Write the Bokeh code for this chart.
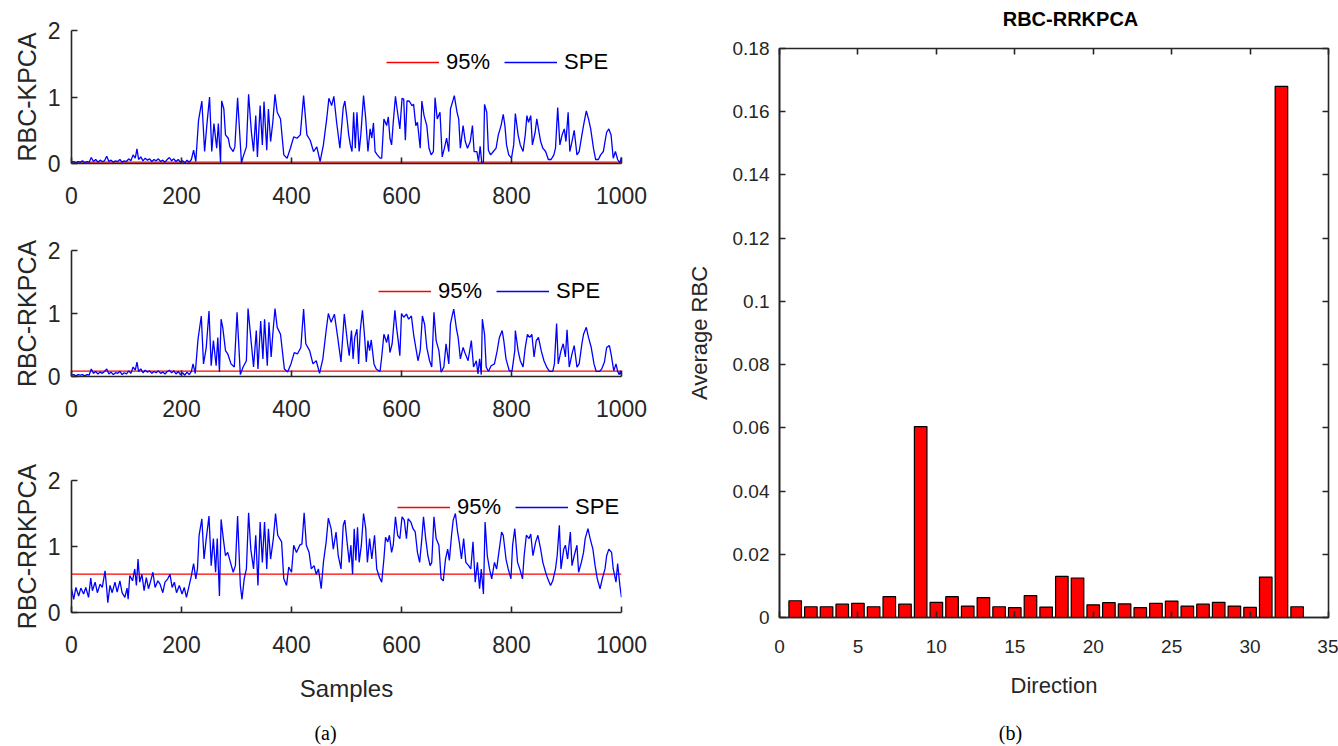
from bokeh.plotting import figure
from bokeh.layouts import row, column
from bokeh.models import (Range1d, FixedTicker, Legend, LegendItem, LinearAxis,
                          Label, CustomJSTickFormatter)
from bokeh.embed import file_html
from bokeh.resources import INLINE

FONT = "Liberation Sans"
SERIF = "Liberation Serif"
TXT = "#262626"

# ---------------- data ----------------
sample_range = [0, 1000]
x_ticks_a = [0, 200, 400, 600, 800, 1000]
y_ticks_a = [0, 1, 2]

# SPE, RBC-KPCA (sample, value) vertices
spe1 = [(0,0.02),(4,0.03),(8,0.01),(12,0.03),(16,0.02),(20,0.04),(24,0.01),(28,0.03),(32,0.02),(36,0.09),
        (40,0.03),(44,0.06),(48,0.02),(52,0.05),(56,0.03),(60,0.04),(64,0.11),(68,0.03),(72,0.05),(76,0.02),
        (80,0.04),(84,0.03),(88,0.06),(92,0.02),(96,0.04),(100,0.03),(104,0.07),(108,0.04),(112,0.13),(116,0.08),
        (119,0.22),(122,0.06),(126,0.1),(130,0.04),(134,0.08),(138,0.05),(142,0.07),(146,0.03),(150,0.06),(154,0.04),
        (158,0.07),(162,0.03),(166,0.05),(170,0.02),(174,0.06),(178,0.09),(182,0.04),(186,0.07),(190,0.03),(194,0.06),
        (198,0.02),(202,0.04),(206,0.01),(210,0.05),(214,0.02),(218,0.06),(222,0.2),(226,0.03),
        (231,0.65),(237,0.94),(242,0.18),(246,0.57),(251,1.0),(255,0.18),(259,0.6),(264,0.23),(267,0.6),(271,0.01),
        (273,0.94),(277,0.82),(280,0.43),(285,0.38),(288,0.25),(294,0.18),(297,0.25),(302,0.99),(309,0.01),(312,0.1),
        (318,0.25),(322,1.04),(327,0.48),(331,0.18),(335,0.72),(338,0.1),(343,0.87),(347,0.28),(350,0.93),(355,0.2),
        (358,0.82),(362,0.33),(366,0.62),(370,1.04),(374,0.77),(380,0.67),(386,0.13),(392,0.08),(398,0.23),(404,0.4),
        (410,0.38),(416,0.43),(422,1.02),(428,0.43),(434,0.35),(440,0.18),(446,0.25),(452,0.03),(458,0.28),(464,0.67),
        (468,0.98),(473,0.87),(477,1.01),(482,0.62),(488,0.23),(494,0.84),(497,0.94),(501,0.67),(504,0.43),(507,0.28),
        (510,0.18),(513,0.77),(516,0.23),(519,0.77),(523,0.18),(526,0.43),(531,1.02),(535,0.67),(539,0.18),(543,0.52),
        (546,0.38),(549,0.61),(552,0.18),(556,0.13),(561,0.08),(564,0.08),(568,0.67),(573,0.57),(576,0.7),(579,0.38),
        (582,0.28),(585,0.62),(589,1.01),(592,0.82),(597,0.52),(601,0.98),(604,0.97),(607,0.35),(610,0.94),(614,0.94),
        (619,0.87),(622,0.89),(626,0.57),(629,0.62),(634,0.23),(637,0.94),(641,0.72),(646,0.57),(650,0.23),(654,0.13),
        (658,0.18),(661,0.99),(665,0.67),(670,0.77),(674,0.1),(678,0.23),(682,0.38),(686,0.18),(689,0.82),(694,0.96),
        (696,1.02),(701,0.77),(704,0.67),(707,0.23),(712,0.57),(716,0.33),(720,0.23),(725,0.33),(729,0.57),(732,0.18),
        (737,0.18),(740,0.03),(743,0.26),(746,0.01),(749,0.02),(751,0.89),(755,0.77),(758,0.2),(762,0.13),(767,0.18),
        (772,0.23),(776,0.43),(781,0.57),(785,0.74),(788,0.57),(791,0.28),(795,0.13),(800,0.08),(804,0.28),(807,0.75),
        (812,0.43),(816,0.28),(821,0.18),(825,0.43),(828,0.72),(831,0.62),(835,0.72),(838,0.28),(843,0.47),(846,0.67),
        (849,0.52),(853,0.33),(857,0.23),(862,0.18),(867,0.06),(872,0.06),(877,0.13),(880,0.23),(884,0.84),(888,0.28),
        (892,0.43),(896,0.52),(899,0.33),(903,0.77),(906,0.18),(910,0.33),(914,0.5),(919,0.13),(923,0.18),(928,0.43),
        (932,0.62),(936,0.79),(940,0.67),(944,0.52),(949,0.23),(953,0.06),(958,0.06),(962,0.13),(967,0.18),(970,0.33),
        (973,0.47),(977,0.52),(981,0.43),(985,0.08),(989,0.18),(993,0.06),(997,0.01),(1000,0.1)]

# SPE, RBC-RKPCA
spe2 = [(0,0.02),(4,0.03),(8,0.01),(12,0.03),(16,0.02),(20,0.03),(24,0.01),(28,0.03),(32,0.02),(36,0.12),
        (40,0.05),(44,0.08),(48,0.04),(52,0.07),(56,0.05),(60,0.08),(64,0.12),(68,0.04),(72,0.07),(76,0.03),
        (80,0.06),(84,0.05),(88,0.08),(92,0.03),(96,0.06),(100,0.04),(104,0.09),(108,0.05),(112,0.15),(116,0.1),
        (119,0.23),(122,0.08),(126,0.12),(130,0.06),(134,0.1),(138,0.07),(142,0.09),(146,0.05),(150,0.08),(154,0.06),
        (158,0.09),(162,0.05),(166,0.07),(170,0.04),(174,0.08),(178,0.1),(182,0.06),(186,0.09),(190,0.04),(194,0.08),
        (198,0.03),(202,0.06),(206,0.02),(210,0.07),(214,0.03),(218,0.08),(221,0.2),(225,0.05),
        (230,0.59),(236,0.96),(240,0.2),(245,0.46),(250,1.04),(254,0.17),(258,0.57),(263,0.17),(266,0.62),(269,0.07),
        (272,0.91),(275,0.78),(280,0.41),(284,0.36),(290,0.2),(296,0.15),(301,1.02),(307,0.03),(312,0.15),(318,0.25),
        (321,1.08),(327,0.52),(331,0.15),(336,0.73),(339,0.12),(344,0.88),(348,0.28),(351,0.91),(356,0.17),(359,0.86),
        (363,0.31),(366,0.67),(370,1.08),(374,0.78),(380,0.67),(387,0.12),(393,0.07),(399,0.2),(405,0.38),(411,0.36),
        (417,0.46),(422,1.07),(426,0.52),(433,0.41),(439,0.2),(445,0.25),(451,0.05),(457,0.28),(463,0.73),(467,1.0),
        (472,0.86),(478,0.99),(484,0.62),(490,0.23),(496,0.99),
        (502,0.52),(505,0.33),(509,0.73),(512,0.28),(515,0.62),(519,0.75),(522,0.2),(525,0.73),(529,1.05),(533,0.62),
        (536,0.23),(539,0.57),(542,0.41),(545,0.58),(550,0.2),(554,0.12),(561,0.08),(564,0.31),(568,0.67),(573,0.54),
        (576,0.67),(579,0.38),(583,0.52),(588,1.05),(591,0.78),(594,0.57),(597,0.33),(600,1.0),(604,0.94),(609,0.99),
        (613,0.91),(618,0.96),(622,0.67),(626,0.46),(630,0.25),(634,0.41),(638,0.96),(642,0.83),(646,0.46),(651,0.25),
        (655,0.15),(659,1.02),(663,0.57),(668,0.41),(672,0.07),(677,0.15),(681,0.52),(686,0.2),(689,0.83),(692,0.96),
        (695,1.07),(700,0.75),(703,0.62),(707,0.28),(712,0.46),(716,0.36),(721,0.25),(727,0.57),(731,0.15),(736,0.25),
        (739,0.04),(742,0.28),(745,0.03),(747,0.91),(751,0.67),(754,0.15),(758,0.08),(763,0.17),(769,0.2),(774,0.41),
        (778,0.62),(783,0.73),(786,0.57),(790,0.28),(796,0.09),(801,0.09),(806,0.41),(807,0.73),(812,0.41),(816,0.25),
        (821,0.15),(825,0.46),(829,0.67),(833,0.62),(837,0.67),(841,0.31),(845,0.57),(849,0.62),(854,0.41),(859,0.25),
        (864,0.15),(869,0.08),(875,0.08),(878,0.2),(882,0.84),(885,0.2),(890,0.41),(894,0.52),(898,0.31),(901,0.74),
        (905,0.15),(910,0.36),(914,0.49),(919,0.15),(923,0.2),(928,0.52),(931,0.67),(936,0.78),(940,0.62),(945,0.46),
        (950,0.2),(954,0.08),(960,0.08),(964,0.12),(969,0.23),(973,0.46),(978,0.49),(981,0.36),(986,0.09),(990,0.2),
        (993,0.08),(996,0.03),(998,0.09),(1000,0.02)]

# SPE, RBC-RRKPCA
spe3 = [(0,0.36),(4,0.2),(8,0.38),(13,0.25),(17,0.37),(22,0.28),(26,0.38),(31,0.23),(35,0.52),(38,0.33),
        (43,0.46),(47,0.3),(52,0.43),(56,0.38),(61,0.63),(64,0.36),(66,0.15),(70,0.41),(74,0.3),(79,0.46),
        (83,0.31),(88,0.48),(92,0.3),(97,0.23),(101,0.37),(103,0.2),(106,0.56),(111,0.48),(115,0.66),(118,0.41),
        (121,0.81),(124,0.46),(128,0.58),(132,0.33),(136,0.53),(140,0.36),(145,0.51),(148,0.61),(152,0.38),(157,0.48),
        (161,0.43),(166,0.3),(170,0.46),(175,0.51),(179,0.58),(183,0.38),(187,0.46),(191,0.3),(196,0.41),(201,0.28),
        (205,0.38),(209,0.23),(214,0.41),(218,0.56),(222,0.74),(226,0.51),(229,0.66),(232,1.17),(237,1.42),(241,0.81),
        (245,1.12),(250,1.46),(254,0.71),(258,1.12),(262,0.61),(265,1.12),(269,0.25),(272,1.41),(276,1.12),(280,0.86),
        (284,0.91),(289,0.76),(294,0.61),(298,0.71),(302,1.46),(307,0.41),(310,0.2),(314,0.51),(318,0.66),(322,1.51),
        (326,0.96),(331,0.66),(335,1.17),(339,0.41),(343,1.37),(347,0.76),(351,1.37),(355,0.66),(358,1.27),(362,0.81),
        (367,1.12),(371,1.5),(375,1.17),(382,1.07),(386,0.51),(391,0.41),(395,0.69),(400,0.61),(404,1.02),(409,0.91),
        (415,1.02),(419,1.04),(423,1.51),(427,1.02),(432,0.91),(436,0.66),(441,0.71),(445,0.58),(449,0.66),(454,0.36),
        (458,0.76),(463,1.07),(467,1.43),(472,1.27),(476,0.96),(481,1.22),(485,0.86),(490,0.66),(494,1.32),(497,1.4),
        (501,1.07),(505,0.76),(508,1.02),(511,0.58),(514,1.27),(517,0.79),(520,1.29),(523,0.76),(527,1.02),(531,1.5),
        (535,1.27),(538,0.76),(542,1.12),(546,0.81),(551,1.17),(555,0.66),(560,0.53),(564,0.46),(568,0.81),(571,1.14),
        (575,1.07),(578,1.17),(582,0.91),(585,1.02),(589,1.45),(593,1.17),(597,1.12),(601,1.45),(605,1.4),(609,1.12),
        (612,1.42),(617,1.37),(621,1.27),(625,1.22),(629,0.91),(633,0.76),(637,1.12),(640,1.45),(644,1.12),(648,0.86),
        (652,0.71),(655,0.76),(659,1.45),(663,1.12),(668,1.02),(672,0.51),(676,0.48),(680,0.81),(684,0.96),(687,0.79),
        (691,1.17),(694,1.4),(698,1.5),(702,1.22),(705,1.07),(709,0.81),(713,1.12),(717,0.76),(722,0.71),(726,0.66),
        (730,1.07),(734,0.46),(738,0.76),(742,0.36),(745,0.66),(749,0.28),(752,1.37),(756,0.86),(760,0.66),(764,0.51),
        (769,0.76),(773,0.66),(777,0.91),(782,1.22),(785,1.17),(790,0.81),(794,0.66),(799,0.51),(802,1.02),(806,1.27),
        (811,0.76),(815,0.66),(820,0.51),(823,0.86),(827,1.17),(832,1.12),(835,1.19),(839,0.86),(844,1.07),(848,1.17),
        (853,0.96),(857,0.76),(862,0.61),(866,0.51),(871,0.41),(875,0.48),(880,0.66),(883,0.86),(887,1.32),(890,0.66),
        (895,0.96),(898,1.02),(902,0.81),(907,1.22),(910,0.71),(914,0.86),(919,1.02),(922,0.61),(927,0.76),(931,0.91),
        (934,1.12),(939,1.27),(943,1.12),(948,0.96),(952,0.71),(956,0.51),(961,0.36),(965,0.51),(970,0.66),(973,0.86),
        (977,0.96),(982,0.91),(985,0.66),(990,0.46),(993,0.74),(997,0.41),(1000,0.23)]

# 95% control limits
limit1 = 0.02
limit2 = 0.085
limit3 = 0.58

# right panel: average RBC per direction
directions = list(range(1, 34))
avg_rbc = [0.0053, 0.0034, 0.0034, 0.0042, 0.0045, 0.0034, 0.0066, 0.0042, 0.0604, 0.0048,
           0.0066, 0.0036, 0.0063, 0.0034, 0.0031, 0.0069, 0.0033, 0.0130, 0.0125, 0.0040,
           0.0047, 0.0043, 0.0031, 0.0045, 0.0052, 0.0036, 0.0042, 0.0048, 0.0036, 0.0032,
           0.0128, 0.1680, 0.0034]
x_ticks_b = [0, 5, 10, 15, 20, 25, 30, 35]
y_ticks_b = [0, 0.02, 0.04, 0.06, 0.08, 0.1, 0.12, 0.14, 0.16, 0.18]

panel_title = "RBC-RRKPCA"
captions = ["(a)", "(b)"]


def style_axis(ax, size="23px", ticks=None):
    ax.axis_line_color = TXT
    ax.axis_line_width = 1.6
    ax.major_tick_line_color = TXT
    ax.major_tick_line_width = 1.6
    ax.major_tick_in = 6
    ax.major_tick_out = 0
    ax.minor_tick_line_color = None
    ax.major_label_text_font = FONT
    ax.major_label_text_font_size = size
    ax.major_label_text_color = TXT
    ax.axis_label_text_font = FONT
    ax.axis_label_text_font_style = "normal"
    ax.axis_label_text_color = TXT
    if ticks is not None:
        ax.ticker = FixedTicker(ticks=ticks)


def strip(width, height):
    s = figure(width=width, height=height, x_range=Range1d(0, width), y_range=Range1d(0, height),
               output_backend="svg", toolbar_location=None,
               min_border_top=0, min_border_bottom=0, min_border_left=0, min_border_right=0)
    s.axis.visible = False
    s.grid.visible = False
    s.outline_line_color = None
    return s


def ts_fig(data, limit, ylabel, height, top, bottom, left, right, legend_loc, xlabel=None):
    p = figure(width=660, height=height, x_range=Range1d(*sample_range), y_range=Range1d(0, 2),
               output_backend="svg", toolbar_location=None,
               min_border_top=top, min_border_bottom=bottom, min_border_left=left, min_border_right=right)
    p.outline_line_color = None
    p.grid.visible = False
    p.background_fill_color = "white"
    xs = [d[0] for d in data]
    ys = [d[1] for d in data]
    r_lim = p.line(x=sample_range, y=[limit, limit], line_color="#ff0000", line_width=1.3)
    r_spe = p.line(x=xs, y=ys, line_color="#0000ff", line_width=1.3)
    style_axis(p.xaxis[0], ticks=x_ticks_a)
    style_axis(p.yaxis[0], ticks=y_ticks_a)
    p.xaxis[0].major_label_standoff = 23
    p.yaxis[0].major_label_standoff = 11
    p.yaxis[0].axis_label = ylabel
    p.yaxis[0].axis_label_text_font_size = "25px"
    p.yaxis[0].axis_label_standoff = 4
    if xlabel:
        p.xaxis[0].axis_label = xlabel
        p.xaxis[0].axis_label_text_font_size = "24px"
        p.xaxis[0].axis_label_standoff = 19
    leg = Legend(items=[LegendItem(label="95%", renderers=[r_lim]),
                        LegendItem(label="SPE", renderers=[r_spe])],
                 orientation="horizontal", location=legend_loc,
                 border_line_color=None, background_fill_alpha=0,
                 label_text_font=FONT, label_text_font_size="22px", label_text_color="black",
                 glyph_width=53, glyph_height=20, label_standoff=7, spacing=14,
                 padding=0, margin=0)
    p.add_layout(leg)
    return p


f1 = ts_fig(spe1, limit1, "RBC-KPCA", 220, 30, 57, 70, 32, (315, 88))
f2 = ts_fig(spe2, limit2, "RBC-RKPCA", 230, 30, 74, 71, 39, (307, 72))
f3 = ts_fig(spe3, limit3, "RBC-RRKPCA", 266, 30, 104, 71, 33, (326, 92), xlabel="Samples")

# ---------------- right panel ----------------
f4 = figure(width=678, height=680, x_range=Range1d(0, 35), y_range=Range1d(0, 0.18),
            output_backend="svg", toolbar_location=None,
            min_border_top=12, min_border_bottom=99, min_border_left=119, min_border_right=10)
f4.grid.visible = False
f4.outline_line_color = TXT
f4.outline_line_width = 1.6
f4.vbar(x=directions, top=avg_rbc, width=0.8, fill_color="#ff0000", line_color="black", line_width=1.2)
style_axis(f4.xaxis[0], size="19px", ticks=x_ticks_b)
style_axis(f4.yaxis[0], size="19px", ticks=y_ticks_b)
f4.yaxis[0].formatter = CustomJSTickFormatter(
    code="return tick.toFixed(2).replace(/0+$/, '').replace(/\\.$/, '');")
f4.xaxis[0].axis_label = "Direction"
f4.yaxis[0].axis_label = "Average RBC"
f4.xaxis[0].axis_label_text_font_size = "22px"
f4.yaxis[0].axis_label_text_font_size = "22px"
f4.xaxis[0].major_label_standoff = 22
f4.yaxis[0].major_label_standoff = 10
f4.xaxis[0].axis_label_standoff = 17
f4.yaxis[0].axis_label_standoff = 18
for loc, ticks in (("above", x_ticks_b), ("right", y_ticks_b)):
    ax = LinearAxis(formatter=CustomJSTickFormatter(code="return '';"))
    style_axis(ax, size="1px", ticks=ticks)
    ax.major_label_standoff = 0
    ax.axis_line_color = None
    f4.add_layout(ax, loc)

# title strip above the bar chart (its frame is aligned with the bar chart's frame)
tstrip = strip(678, 36)
tstrip.add_layout(Label(x=291, y=18, x_units="screen", y_units="screen", text=panel_title,
                        text_font=FONT, text_font_size="20px", text_font_style="bold",
                        text_color="black", text_align="center", text_baseline="middle"))

# caption strip with panel labels
cap = strip(1338, 30)
for txt, xpos in zip(captions, (325, 1010)):
    cap.add_layout(Label(x=xpos, y=14, x_units="screen", y_units="screen", text=txt,
                         text_font=SERIF, text_font_size="20px", text_color="black",
                         text_align="center", text_baseline="middle"))

layout = column(row(column(f1, f2, f3), column(tstrip, f4)), cap)
open("out.html", "w").write(file_html(layout, INLINE))
